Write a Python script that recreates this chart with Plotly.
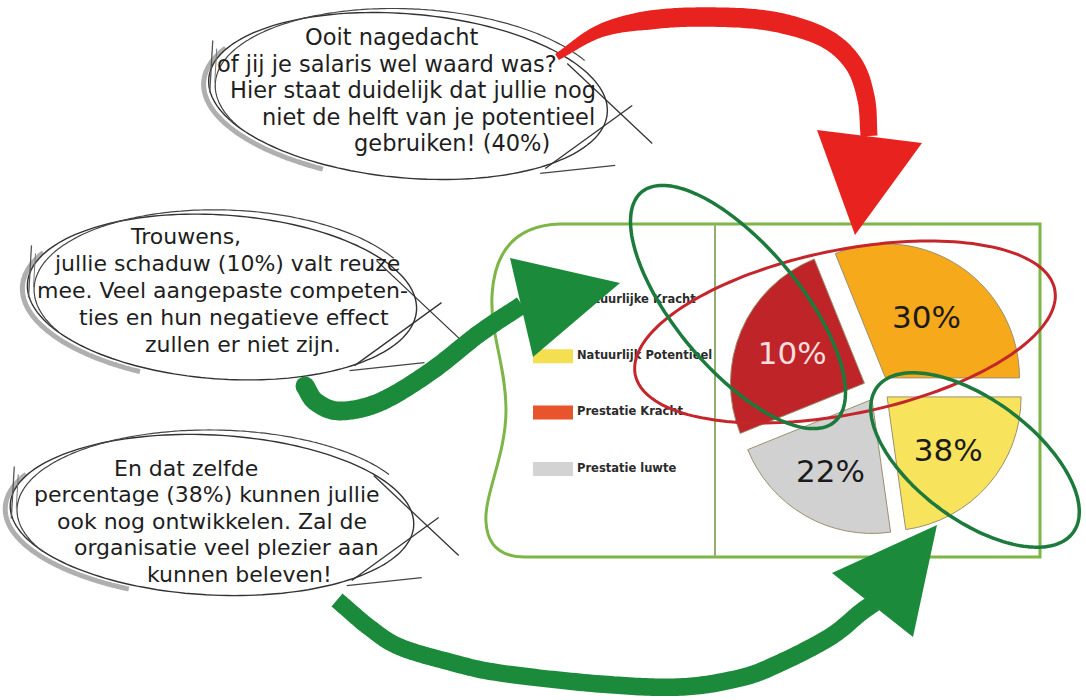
import numpy as np
import plotly.graph_objects as go

W, H = 1086, 700

# ---------------- data ----------------
slice_names = ["Natuurlijke Kracht", "Natuurlijk Potentieel", "Prestatie luwte", "Prestatie Kracht"]
slice_pct_labels = ["30%", "38%", "22%", "10%"]
slice_wedge_size = [112, 82, 76, 90]          # wedge sizes as drawn in the picture
slice_pull = [0.10, 0.09, 0.09, 0.11]
slice_colors = ["#F6A91A", "#F8E35C", "#D1D1D1", "#BF2429"]
slice_label_colors = ["#1b1b1b", "#1b1b1b", "#1b1b1b", "#F6DEDE"]

legend_names = ["Natuurlijke Kracht", "Natuurlijk Potentieel", "Prestatie Kracht", "Prestatie luwte"]
legend_colors = ["#F6A91A", "#F3DF50", "#E8552C", "#D3D3D3"]

bubble_top_lines = ["Ooit nagedacht", "of jij je salaris wel waard was?",
                    "Hier staat duidelijk dat jullie nog", "niet de helft van je potentieel",
                    "gebruiken! (40%)"]
bubble_mid_lines = ["Trouwens,", "jullie schaduw (10%) valt reuze",
                    "mee. Veel aangepaste competen-", "ties en hun negatieve effect",
                    "zullen er niet zijn."]
bubble_low_lines = ["En dat zelfde", "percentage (38%) kunnen jullie",
                    "ook nog ontwikkelen. Zal de", "organisatie veel plezier aan",
                    "kunnen beleven!"]

# ---------------- layout helpers ----------------
def pstr(P, close=False):
    s = "M " + " L ".join(f"{x:.1f},{y:.1f}" for x, y in P)
    return s + (" Z" if close else "")

def ellipse(cx, cy, rx, ry, tilt, t0=0, t1=360, n=180):
    t = np.radians(np.linspace(t0, t1, n)); a = np.radians(tilt)
    x = rx * np.cos(t); y = ry * np.sin(t)
    return np.c_[cx + x*np.cos(a) - y*np.sin(a), cy + x*np.sin(a) + y*np.cos(a)]

def catmull(points, n=24):
    P = np.array(points, float)
    P = np.vstack([2*P[0]-P[1], P, 2*P[-1]-P[-2]])
    out = []
    for i in range(1, len(P)-2):
        p0, p1, p2, p3 = P[i-1], P[i], P[i+1], P[i+2]
        for t in np.linspace(0, 1, n, endpoint=False):
            t2, t3 = t*t, t*t*t
            out.append(0.5*((2*p1) + (-p0+p2)*t + (2*p0-5*p1+4*p2-p3)*t2 + (-p0+3*p1-3*p2+p3)*t3))
    out.append(P[-2])
    return np.array(out)

def ribbon(points, widths):
    C = catmull(points)
    d = np.gradient(C, axis=0)
    nrm = np.stack([-d[:, 1], d[:, 0]], 1)
    nrm /= np.linalg.norm(nrm, axis=1, keepdims=True)
    s = np.r_[0, np.cumsum(np.linalg.norm(np.diff(C, axis=0), axis=1))]
    s = s / s[-1]
    w = np.interp(s, [a for a, _ in widths], [b for _, b in widths])
    L = C + nrm*w[:, None]/2
    R = C - nrm*w[:, None]/2
    return pstr(np.vstack([L, R[::-1]]), close=True)

def pshape(path, color=None, width=0, fill=None, layer="above"):
    return dict(type="path", path=path, xref="x", yref="y", layer=layer,
                line=dict(color=color or "rgba(0,0,0,0)", width=width),
                fillcolor=fill or "rgba(0,0,0,0)")

def lshape(x0, y0, x1, y1, color, width, layer="above"):
    return dict(type="line", x0=x0, y0=y0, x1=x1, y1=y1, xref="x", yref="y",
                layer=layer, line=dict(color=color, width=width))

def bubble(cx, cy, rx, ry, tilt):
    out = []
    out.append(pshape(pstr(ellipse(cx-3, cy+3, rx+2, ry+1, tilt, 112, 205)),
                      "rgba(110,110,110,0.55)", 5))
    out.append(pshape(pstr(ellipse(cx, cy, rx, ry, tilt), close=True), "#333333", 1.4, "white"))
    out.append(pshape(pstr(ellipse(cx+4, cy-2, rx-3, ry+3, tilt-2, 150, 330)), "#444444", 1.2))
    lx, ly = ellipse(cx, cy, rx, ry, tilt, 180, 180, 1)[0]
    out.append(lshape(lx+4, ly-38, lx+1, ly+14, "#555555", 1.3))
    out.append(lshape(lx+8, ly-30, lx+6, ly+4, "#777777", 1.0))
    ex, ey = ellipse(cx, cy, rx, ry, tilt, 0, 0, 1)[0]
    out.append(lshape(ex-40, ey-50, ex+45, ey+30, "#333333", 1.3))
    out.append(lshape(ex-62, ey+55, ex+25, ey-8, "#333333", 1.3))
    out.append(lshape(ex-67, ey+60, ex+8, ey+52, "#444444", 1.2))
    return out

# ---------------- figure ----------------
fig = go.Figure()

# pie (exploded) – domain chosen so slice radius ~134 px around (878, 389)
pcx, pcy, prad = 878, 389, 134
half = prad * (1 + max(slice_pull))
fig.add_trace(go.Pie(
    labels=slice_names, values=slice_wedge_size, text=slice_pct_labels,
    textinfo="text", textposition="inside", insidetextorientation="horizontal",
    textfont=dict(family="DejaVu Sans", size=31, color=slice_label_colors),
    marker=dict(colors=slice_colors, line=dict(color="#9a9070", width=1)),
    pull=slice_pull, sort=False, direction="clockwise", rotation=-22,
    domain=dict(x=[(pcx-half)/W, (pcx+half)/W], y=[(H-pcy-half)/H, (H-pcy+half)/H]),
    hoverinfo="skip", showlegend=False))

# legend labels (drawn as text marks inside the frame)
leg_x, leg_y0, leg_dy = 577, 300, 56.3
leg_y = [leg_y0 + i*leg_dy for i in range(len(legend_names))]
fig.add_trace(go.Scatter(
    x=[leg_x]*len(legend_names), y=leg_y, mode="text", text=legend_names,
    textposition="middle right",
    textfont=dict(family="DejaVu Sans", size=11.5, color="#2b2b2b", weight="bold"),
    hoverinfo="skip", showlegend=False))

shapes = []
# frame
frame = ("M 560,224 L 1040,224 L 1040,557 L 525,557 Q 488,557 486,522 "
         "C 484,495 506,455 506,410 C 506,365 490,335 492,295 Q 496,226 560,224 Z")
shapes.append(pshape(frame, "#7DB646", 3, None, "below"))
shapes.append(lshape(715, 224, 715, 557, "#93AE6E", 2, "below"))
for i, c in enumerate(legend_colors):
    shapes.append(dict(type="rect", x0=533, x1=573, y0=leg_y[i]-7, y1=leg_y[i]+7,
                       xref="x", yref="y", layer="below", fillcolor=c, line=dict(width=0)))

# speech bubbles
shapes += bubble(408, 96, 200, 82, 5)
shapes += bubble(222, 297, 195, 82, 4)
shapes += bubble(212, 515, 202, 80, 3)

# highlight ellipses
shapes.append(pshape(pstr(ellipse(845, 332, 214, 82, -11.5), True), "#C4262B", 3))
shapes.append(pshape(pstr(ellipse(738, 307, 150, 62, 50), True), "#1C7A3C", 3.5))
shapes.append(pshape(pstr(ellipse(975, 460, 122, 60, 36.6), True), "#1C7A3C", 3.5))

# red arrow
red_c = "#E8231F"
shapes.append(pshape(ribbon([(557, 57), (600, 31), (650, 20), (707, 17), (770, 21), (823, 37),
                             (853, 63), (866, 98), (869, 136)],
                            [(0, 7), (0.25, 19), (0.6, 20), (1, 17)]), None, 0, red_c))
shapes.append(pshape(pstr([(817, 130), (922, 143), (855, 235)], True), None, 0, red_c))

# green arrows
grn = "#1B8B3B"
shapes.append(pshape(ribbon([(305, 386), (316, 402), (340, 411), (380, 402), (430, 372),
                             (480, 333), (522, 305)], [(0, 19), (1, 18)]), None, 0, grn))
shapes.append(dict(type="circle", x0=295.5, x1=314.5, y0=376.5, y1=395.5, xref="x", yref="y",
                   layer="above", fillcolor=grn, line=dict(width=0)))
shapes.append(pshape(pstr([(510, 258), (620, 283), (533, 357)], True), None, 0, grn))

shapes.append(pshape(ribbon([(337, 600), (370, 628), (400, 647), (450, 662), (500, 673),
                             (600, 684), (680, 687), (740, 678), (780, 663), (830, 637),
                             (860, 613), (874, 603)],
                            [(0, 17), (1, 18)]), None, 0, grn))
shapes.append(pshape(pstr([(832, 573), (937, 525), (913, 637)], True), None, 0, grn))

# bubble texts
annotations = []
def add_lines(lines, xs, y0, dy, size):
    for i, (txt, x) in enumerate(zip(lines, xs)):
        annotations.append(dict(x=x, y=y0 + i*dy, xref="x", yref="y", text=txt,
                                showarrow=False, xanchor="left", yanchor="middle",
                                font=dict(family="DejaVu Sans", size=size, color="#1e1e1e")))

add_lines(bubble_top_lines, [303, 215, 228, 260, 352], 37, 26.5, 22.5)
add_lines(bubble_mid_lines, [128, 52, 35, 77, 143], 236, 27, 22)
add_lines(bubble_low_lines, [112, 32, 55, 72, 145], 468, 26.5, 22)

fig.update_layout(
    width=W, height=H, margin=dict(l=0, r=0, t=0, b=0),
    paper_bgcolor="white", plot_bgcolor="white", showlegend=False,
    xaxis=dict(range=[0, W], visible=False, fixedrange=True),
    yaxis=dict(range=[H, 0], visible=False, fixedrange=True),
    uniformtext=dict(minsize=31, mode="show"),
    shapes=shapes, annotations=annotations)

fig.write_html("out.html", config={"displayModeBar": False},
               post_script="document.body.style.margin='0px';document.body.style.overflow='hidden';")
